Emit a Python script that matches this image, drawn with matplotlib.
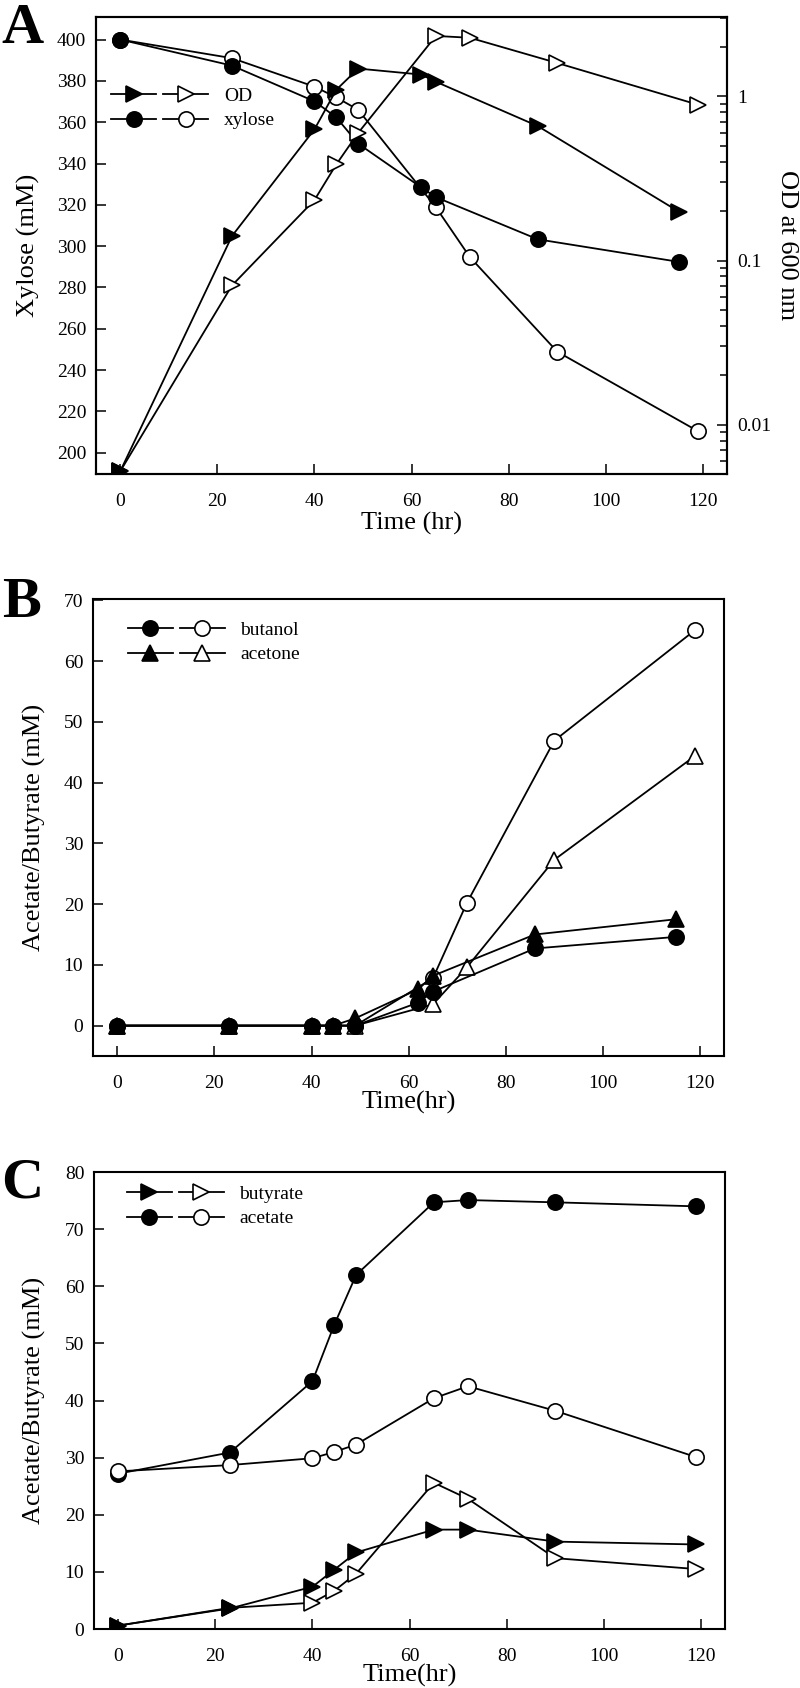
import matplotlib
matplotlib.use('Agg')
import matplotlib.pyplot as plt
from matplotlib.lines import Line2D
from matplotlib.legend_handler import HandlerTuple
from matplotlib.ticker import FixedLocator, FuncFormatter, LogLocator, NullFormatter

plt.rcParams['font.family'] = ['Liberation Serif', 'DejaVu Serif']

# time points (hr)
t_a_fill = [0, 23, 40, 44.5, 49, 62, 65, 86, 115]
t_a_open = [0, 23, 40, 44.5, 49, 65, 72, 90, 119]
t_c = [0, 23, 40, 44.5, 49, 65, 72, 90, 119]

# panel A
xylose_fill = [400, 387.4, 370.1, 362.3, 349.6, 328.4, 323.7, 303.3, 292.4]
xylose_open = [400, 391.0, 377.2, 372.0, 366.0, 318.8, 294.7, 248.9, 210.4]
od_fill = [0.0052, 0.141, 0.631, 1.10, 1.48, 1.36, 1.23, 0.66, 0.199]
od_open = [0.0052, 0.0705, 0.234, 0.386, 0.600, 2.34, 2.28, 1.60, 0.891]

# panel B
butanol_fill = [0, 0, 0, 0, 0, 3.8, 5.6, 12.7, 14.6]
butanol_open = [0, 0, 0, 0, 0, 7.8, 20.2, 46.9, 65.1]
acetone_fill = [0, 0, 0, 0, 1.2, 6.0, 8.2, 15.0, 17.5]
acetone_open = [0, 0, 0, 0, 0, 3.5, 9.6, 27.3, 44.4]

# panel C
acetate_fill = [27.2, 30.9, 43.4, 53.3, 62.0, 74.7, 75.1, 74.7, 74.0]
acetate_open = [27.6, 28.7, 29.9, 31.0, 32.3, 40.4, 42.5, 38.2, 30.1]
butyrate_fill = [0.6, 3.6, 7.4, 10.4, 13.4, 17.4, 17.4, 15.3, 14.8]
butyrate_open = [0.6, 3.7, 4.6, 6.7, 9.7, 25.6, 22.8, 12.4, 10.5]

MS = 11
LW = 1.3


def series(ax, x, y, marker, filled):
    ax.plot(x, y, color='black', lw=LW, marker=marker, ms=MS,
            mfc='black' if filled else 'white', mec='black', mew=1.2)


def handle(marker, filled):
    return Line2D([], [], color='black', lw=LW, marker=marker, ms=MS,
                  mfc='black' if filled else 'white', mec='black', mew=1.2)


def style(ax):
    ax.tick_params(direction='in', length=7.5, width=1.1, labelsize=14, pad=7)
    ax.tick_params(axis='x', pad=14)
    ax.tick_params(which='minor', direction='in', length=5, width=1.1)
    for s in ax.spines.values():
        s.set_linewidth(1.5)
    ax.set_xlim(-5, 125)
    ax.set_xticks([0, 20, 40, 60, 80, 100, 120])


def legend(ax, handles, labels, anchor):
    ax.legend(handles, labels, handler_map={tuple: HandlerTuple(ndivide=None, pad=0.35)},
              loc='upper left', bbox_to_anchor=anchor, frameon=False, fontsize=14,
              handlelength=5.0, handletextpad=0.8, labelspacing=0.35,
              borderpad=0, borderaxespad=0)


fig = plt.figure(figsize=(8, 16.88), dpi=100)

# ---- A ----
ax = fig.add_axes([0.12, 0.7192, 0.789, 0.2707])
ax2 = ax.twinx()
series(ax, t_a_open, xylose_open, 'o', False)
series(ax, t_a_fill, xylose_fill, 'o', True)
series(ax2, t_a_open, od_open, '>', False)
series(ax2, t_a_fill, od_fill, '>', True)
style(ax)
ax.set_ylim(189.7, 410.9)
ax.set_yticks(range(200, 401, 20))
ax2.set_yscale('log')
ax2.set_ylim(0.005, 3.05)
ax2.yaxis.set_major_locator(FixedLocator([0.01, 0.1, 1]))
ax2.yaxis.set_major_formatter(FuncFormatter(lambda v, p: f'{v:g}'))
ax2.yaxis.set_minor_locator(LogLocator(base=10, subs=range(2, 10)))
ax2.yaxis.set_minor_formatter(NullFormatter())
ax2.tick_params(direction='in', length=7.5, width=1.1, labelsize=14, pad=7)
ax2.tick_params(which='minor', direction='in', length=5, width=1.1)
for s in ax2.spines.values():
    s.set_linewidth(1.5)
ax.set_xlabel('Time (hr)', fontsize=19, labelpad=1)
ax.set_ylabel('Xylose (mM)', fontsize=19)
ax.yaxis.set_label_coords(-0.089, 0.5)
ax2.set_ylabel('OD at 600 nm', fontsize=19, rotation=270, va='bottom')
ax2.yaxis.set_label_coords(1.078, 0.5)
legend(ax2, [(handle('>', True), handle('>', False)), (handle('o', True), handle('o', False))],
       ['OD', 'xylose'], (0.024, 0.846))

# ---- B ----
ax = fig.add_axes([0.1163, 0.3744, 0.789, 0.2707])
series(ax, t_a_open, butanol_open, 'o', False)
series(ax, t_a_open, acetone_open, '^', False)
series(ax, t_a_fill, butanol_fill, 'o', True)
series(ax, t_a_fill, acetone_fill, '^', True)
style(ax)
ax.set_ylim(-5, 70.2)
ax.set_yticks(range(0, 71, 10))
ax.set_xlabel('Time(hr)', fontsize=19, labelpad=-1)
ax.set_ylabel('Acetate/Butyrate (mM)', fontsize=19)
ax.yaxis.set_label_coords(-0.0745, 0.5)
legend(ax, [(handle('o', True), handle('o', False)), (handle('^', True), handle('^', False))],
       ['butanol', 'acetone'], (0.055, 0.951))

# ---- C ----
ax = fig.add_axes([0.1175, 0.03495, 0.789, 0.2707])
series(ax, t_c, butyrate_open, '>', False)
series(ax, t_c, butyrate_fill, '>', True)
series(ax, t_c, acetate_fill, 'o', True)
series(ax, t_c, acetate_open, 'o', False)
style(ax)
ax.set_ylim(0, 80)
ax.set_yticks(range(0, 81, 10))
ax.set_xlabel('Time(hr)', fontsize=19, labelpad=-1)
ax.set_ylabel('Acetate/Butyrate (mM)', fontsize=19)
ax.yaxis.set_label_coords(-0.076, 0.5)
legend(ax, [(handle('>', True), handle('>', False)), (handle('o', True), handle('o', False))],
       ['butyrate', 'acetate'], (0.0515, 0.971))

for letter, y in [('A', 0.9745), ('B', 0.6345), ('C', 0.2903)]:
    fig.text(0.002, y, letter, fontsize=42, fontweight='bold', va='baseline')

fig.savefig('out.png', dpi=100)
